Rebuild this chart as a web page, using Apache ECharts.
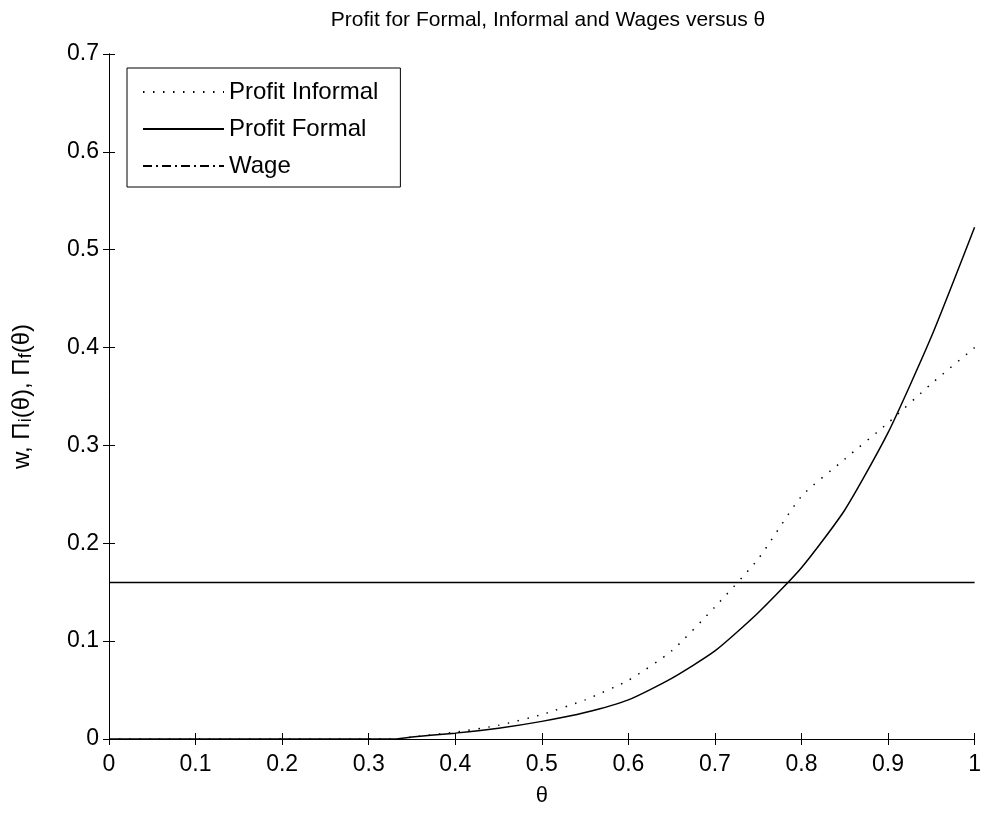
<!DOCTYPE html>
<html>
<head>
<meta charset="utf-8">
<script src="https://cdn.jsdelivr.net/npm/echarts@6/dist/echarts.min.js"></script>
<style>
  html, body { margin: 0; padding: 0; background: #fff; }
  #main { width: 984px; height: 814px; }
</style>
</head>
<body>
<div id="main"></div>
<script>
// theta grid and values
var theta = [0, 0.05, 0.1, 0.15, 0.2, 0.25, 0.3, 0.33, 0.35, 0.4, 0.45, 0.5, 0.55, 0.6, 0.65, 0.7, 0.75, 0.8, 0.85, 0.9, 0.95, 1.0];
var profitInformal = [0, 0, 0, 0, 0, 0, 0, 0, 0.002, 0.007, 0.014, 0.025, 0.040, 0.060, 0.090, 0.135, 0.184, 0.248, 0.286, 0.323, 0.363, 0.400];
var profitFormal = [0, 0, 0, 0, 0, 0, 0, 0, 0.002, 0.006, 0.011, 0.018, 0.027, 0.040, 0.062, 0.090, 0.129, 0.175, 0.234, 0.313, 0.411, 0.523];
var wage = [0.16, 0.16];
var wageTheta = [0, 1];

function pairs(xs, ys) {
  var out = [];
  for (var i = 0; i < xs.length; i++) out.push([xs[i], ys[i]]);
  return out;
}

var font = 'Liberation Sans, Arial, sans-serif';
var chart = echarts.init(document.getElementById('main'));

var baseX = {
  type: 'value', min: 0, max: 1, interval: 0.1,
  axisLine: { lineStyle: { color: '#000', width: 1 } },
  axisTick: { inside: true, length: 6, lineStyle: { color: '#000' } },
  splitLine: { show: false }
};
var baseY = {
  type: 'value', min: 0, max: 0.7, interval: 0.1,
  axisLine: { show: true, lineStyle: { color: '#000', width: 1 } },
  axisTick: { show: true, inside: true, length: 6, lineStyle: { color: '#000' } },
  splitLine: { show: false }
};

chart.setOption({
  backgroundColor: '#fff',
  animation: false,
  title: {
    text: 'Profit for Formal, Informal and Wages versus θ',
    left: 543, top: 5, textAlign: 'center',
    textStyle: { fontSize: 21, fontWeight: 'normal', color: '#000', fontFamily: font }
  },
  legend: {
    orient: 'vertical',
    left: 127, top: 68,
    padding: [12, 22, 9, 15],
    itemWidth: 81, itemHeight: 16, itemGap: 13,
    borderColor: '#000', borderWidth: 1,
    backgroundColor: '#fff',
    itemStyle: { opacity: 0 },
    textStyle: { fontSize: 24, color: '#000', fontFamily: font },
    data: [
      { name: 'Profit Informal' },
      { name: 'Profit Formal' },
      { name: 'Wage', lineStyle: { type: [9, 4, 2, 4] } }
    ]
  },
  grid: { left: 109, right: 7, top: 54, bottom: 75 },
  xAxis: [
    Object.assign({}, baseX, {
      position: 'bottom',
      name: 'θ', nameLocation: 'middle', nameGap: 46,
      nameTextStyle: { fontSize: 22, color: '#000', fontFamily: font },
      axisLabel: { fontSize: 23, color: '#000', fontFamily: font, margin: 14 }
    }),
    Object.assign({}, baseX, { position: 'top', axisLabel: { show: false } })
  ],
  yAxis: [
    Object.assign({}, baseY, {
      position: 'left',
      name: 'w, Π{sub|i}(θ), Π{sub|f}(θ)',
      nameLocation: 'middle', nameGap: 74, nameRotate: 90,
      nameTextStyle: {
        fontSize: 24, color: '#000', fontFamily: font,
        rich: { sub: { fontSize: 18, verticalAlign: 'bottom', padding: [8, 0, 0, 0], fontFamily: font, color: '#000' } }
      },
      axisLabel: { fontSize: 23, color: '#000', fontFamily: font, margin: 10 }
    }),
    Object.assign({}, baseY, { position: 'right', axisLabel: { show: false } })
  ],
  series: [
    {
      name: 'Profit Informal', type: 'line', symbol: 'none',
      smooth: 0.2,
      lineStyle: { color: '#000', width: 1.5, type: [1.5, 8.5] },
      itemStyle: { color: '#000' },
      data: pairs(theta, profitInformal), z: 3
    },
    {
      name: 'Profit Formal', type: 'line', symbol: 'none',
      smooth: 0.2,
      lineStyle: { color: '#000', width: 1.5, type: 'solid' },
      itemStyle: { color: '#000' },
      data: pairs(theta, profitFormal), z: 3
    },
    {
      name: 'Wage', type: 'line', symbol: 'none',
      lineStyle: { color: '#000', width: 1.5, type: 'solid' },
      itemStyle: { color: '#000' },
      data: pairs(wageTheta, wage), z: 3
    }
  ]
});
</script>
</body>
</html>
